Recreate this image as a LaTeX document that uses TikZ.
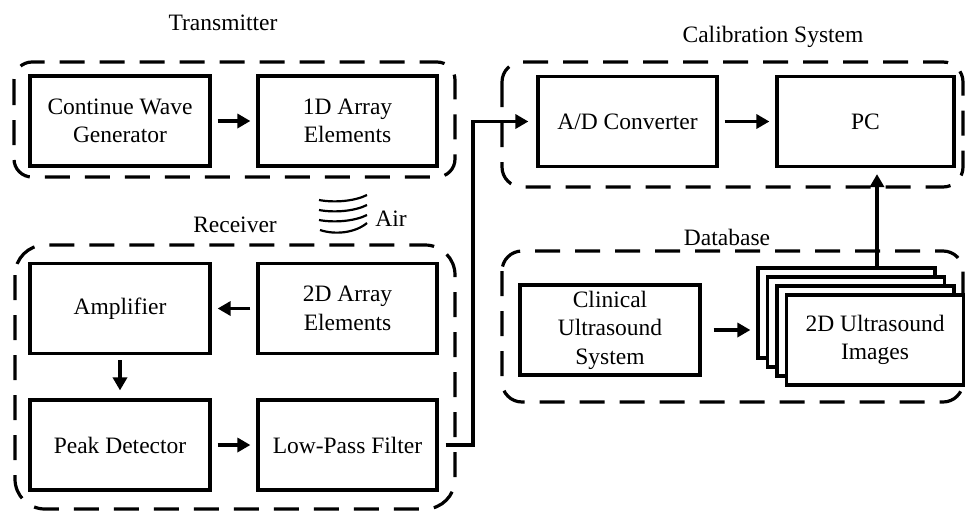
\documentclass[tikz,border=0pt]{standalone}
\usepackage{fontspec}
\setmainfont{Liberation Serif}
\usetikzlibrary{arrows.meta}
\begin{document}
\begin{tikzpicture}[x=1pt,y=-1pt,
  box/.style={draw, line width=3.2pt, fill=white, minimum width=#1,
    minimum height=90pt, inner sep=2pt, align=center,
    font=\fontsize{23.5}{28.5}\selectfont},
  box/.default=180pt,
  group/.style={draw, line width=3.2pt, dash pattern=on 25pt off 15pt,
    rounded corners=#1},
  conn/.style={line width=3.6pt, -{Triangle[length=13pt,width=14pt]},
    shorten >=6pt, shorten <=6pt},
  lbl/.style={font=\fontsize{23.5}{28.5}\selectfont, inner sep=0pt},
  wave/.style={line width=2.2pt}]
\useasboundingbox (0,0) rectangle (965,512);

% dashed group frames
\draw[group=18pt] (14,62) rectangle (455,177);
\draw[group=30pt] (15,245) rectangle (455,509);
\draw[group=20pt] (502,62) rectangle (963,187);
\draw[group=20pt] (502,251) rectangle (963,402);

% group titles
\node[lbl] (tTrans) at (223,23) {Transmitter};
\node[lbl] (tCal)   at (773,37) {Calibration System};
\node[lbl] (tRecv)  at (235,225) {Receiver};
\node[lbl] (tDb)    at (727,237) {Database};

% transmitter
\node[box] (cwg) at (120,121) {Continue Wave\\Generator};
\node[box=179pt] (a1d) at (347.5,121) {1D Array\\Elements};

% receiver
\node[box] (amp) at (120,308.5) {Amplifier};
\node[box=179pt] (a2d) at (347.5,308.5) {2D Array\\Elements};
\node[box] (pk)  at (120,445) {Peak Detector};
\node[box=179pt] (lpf) at (347.5,445) {Low-Pass Filter};

% calibration system
\node[box=179pt] (adc) at (627.5,121.5) {A/D Converter};
\node[box=177pt] (pc)  at (865.5,121.5) {PC};

% database
\node[box] (cus) at (610,330) {Clinical\\Ultrasound\\System};
\node[box=177pt] (img1) at (846.5,313) {};
\node[box=177pt] (img2) at (856,322) {};
\node[box=177pt] (img3) at (865.5,331) {};
\node[box=177pt] (img4) at (875,340) {2D Ultrasound\\Images};

% air waves between transmitter and receiver
\draw[wave] (319,200) .. controls (335,203) and (355,201) .. (367,195);
\draw[wave] (319,210) .. controls (335,213) and (355,211) .. (367,205);
\draw[wave] (319,220) .. controls (335,223) and (355,221) .. (367,215);
\draw[wave] (320,230) .. controls (335,235) and (355,233) .. (367,223);
\node[lbl] (air) at (391,219) {Air};

% signal flow
\draw[conn] (cwg) -- (a1d);
\draw[conn] (a2d) -- (amp);
\draw[conn, shorten <=5pt, shorten >=8pt] (amp) -- (pk);
\draw[conn] (pk) -- (lpf);
\coordinate (bend) at (473,0);
\draw[conn, shorten <=7pt, shorten >=8pt] (lpf.east) -- (lpf.east -| bend) |- (adc.west);
\draw[conn] (adc) -- (pc);
\draw[conn, shorten <=12pt] (cus) -- (img1.west |- cus);
\coordinate (upx) at (877,0);
\draw[conn, shorten <=0pt] (img1.north -| upx) -- (pc.south -| upx);
\end{tikzpicture}
\end{document}
